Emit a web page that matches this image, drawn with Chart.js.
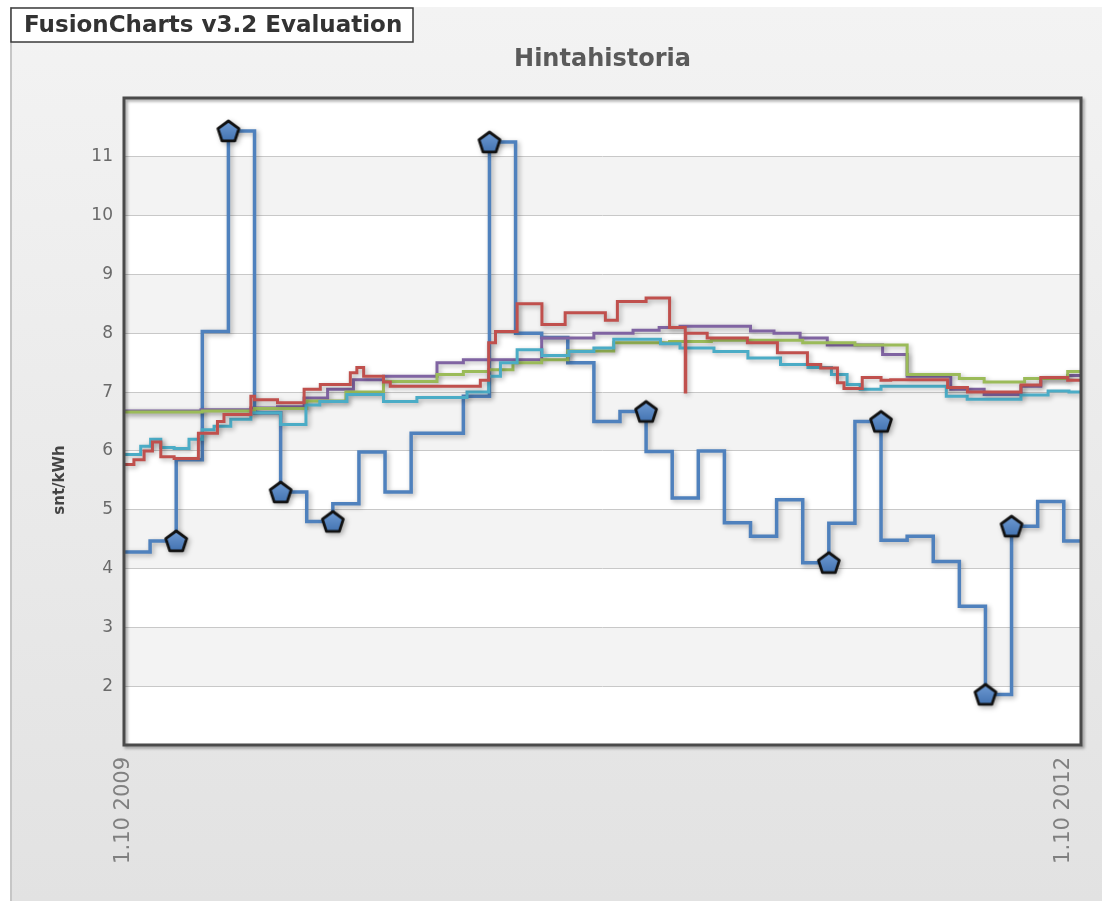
<!DOCTYPE html>
<html>
<head>
<meta charset="utf-8">
<script src="https://cdn.jsdelivr.net/npm/chart.js@4.4.1/dist/chart.umd.min.js"></script>
<style>
  html, body { margin: 0; padding: 0; background: #ffffff; }
  canvas { display: block; }
</style>
</head>
<body>
<canvas id="chart" width="1108" height="901"></canvas>
<script>
// x values are months counted from 1.10.2009
const AXIS_END = 36.66;
const tickMonths = [0, 36];
const tickLabels = ['1.10 2009', '1.10 2012'];

// Monthly spot price (held for the whole month)
const spotMonths = [0, 1, 2, 3, 4, 5, 6, 7, 8, 9, 10, 11, 12, 13, 14, 15, 16, 17, 18,
  19, 20, 21, 22, 23, 24, 25, 26, 27, 28, 29, 30, 31, 32, 33, 34, 35, 36];
const spotPrices = [4.28, 4.47, 5.85, 8.03, 11.44, 6.65, 5.3, 4.8, 5.1, 5.98, 5.3, 6.3, 6.3,
  6.93, 11.25, 8.0, 7.93, 7.5, 6.5, 6.67, 5.99, 5.2, 6.0, 4.78, 4.55, 5.17, 4.1, 4.77,
  6.5, 4.48, 4.55, 4.12, 3.36, 1.86, 4.72, 5.14, 4.47];

// Highlighted spot points
const markerMonths = [2, 4, 6, 8, 14, 20, 27, 29, 33, 34];
const markerPrices = [4.47, 11.44, 5.3, 4.8, 11.25, 6.67, 4.1, 6.5, 1.86, 4.72];

// Contract A (violet)
const contractAMonths = [0, 2.95, 4.86, 5.88, 6.9, 7.8, 8.79, 9.94, 11.99, 13.0, 16.0, 18.0,
  19.5, 20.5, 21.3, 24.0, 24.9, 25.9, 26.94, 29.06, 30.0, 31.67, 32.95, 34.36, 35.12, 36.15];
const contractAPrices = [6.68, 6.7, 6.73, 6.75, 6.9, 7.05, 7.21, 7.27, 7.5, 7.55, 7.92, 8.0,
  8.05, 8.1, 8.12, 8.04, 8.0, 7.92, 7.8, 7.64, 7.27, 7.05, 6.96, 7.1, 7.23, 7.28];

// Contract B (olive)
const contractBMonths = [0, 3.0, 5.0, 7.0, 8.5, 9.94, 11.99, 13.0, 13.97, 14.9, 16.0, 17.0,
  18.76, 20.9, 22.5, 26.0, 28.0, 30.0, 32.0, 32.95, 34.5, 36.15];
const contractBPrices = [6.66, 6.68, 6.72, 6.85, 7.0, 7.18, 7.3, 7.35, 7.38, 7.5, 7.55, 7.7,
  7.84, 7.86, 7.88, 7.84, 7.8, 7.3, 7.23, 7.17, 7.23, 7.35];

// Contract C (red)
const contractCMonths = [0, 0.38, 0.77, 1.09, 1.41, 1.92, 2.85, 3.58, 3.83, 4.86, 5.0, 5.88,
  6.9, 7.52, 8.67, 8.92, 9.18, 9.94, 10.2, 13.65, 13.97, 14.23, 15.06, 16.01, 16.9, 18.44,
  18.9, 20.0, 20.9, 21.5, 21.52, 22.34, 23.88, 25.03, 26.18, 26.69, 27.33, 27.58, 28.28,
  29.0, 29.37, 31.55, 32.31, 34.36, 35.12, 36.15];
const contractCPrices = [5.77, 5.85, 6.0, 6.15, 5.9, 5.87, 6.3, 6.5, 6.62, 6.93, 6.87, 6.82,
  7.05, 7.13, 7.33, 7.42, 7.27, 7.17, 7.1, 7.2, 7.84, 8.03, 8.5, 8.15, 8.35, 8.22,
  8.54, 8.6, 8.1, 7.0, 8.0, 7.92, 7.84, 7.67, 7.47, 7.41, 7.16, 7.06, 7.25,
  7.2, 7.21, 7.08, 7.0, 7.12, 7.25, 7.2];

// Contract D (turquoise)
const contractDMonths = [0, 0.64, 1.02, 1.41, 1.92, 2.49, 3.0, 3.45, 4.09, 4.86, 6.0, 6.97,
  7.5, 8.54, 9.94, 11.22, 13.14, 13.97, 14.42, 15.06, 16.01, 17.04, 18.0, 18.76, 20.55,
  21.3, 22.6, 23.9, 25.15, 26.2, 27.1, 27.7, 28.2, 29.0, 31.5, 32.3, 34.36, 35.4, 36.2];
const contractDPrices = [5.94, 6.08, 6.2, 6.06, 6.04, 6.2, 6.36, 6.42, 6.54, 6.65, 6.45, 6.78,
  6.84, 6.96, 6.84, 6.91, 7.0, 7.27, 7.5, 7.72, 7.62, 7.69, 7.75, 7.9, 7.82,
  7.75, 7.69, 7.58, 7.47, 7.42, 7.3, 7.13, 7.05, 7.1, 6.93, 6.88, 6.95, 7.02, 7.0];

// Step series: each value holds until the next month; the last one runs to the axis end
function stepPoints(months, prices) {
  const pts = months.map((m, i) => ({ x: m, y: prices[i] }));
  pts.push({ x: AXIS_END, y: prices[prices.length - 1] });
  return pts;
}

// Pentagon marker drawn once and reused as the point style
function makePentagon() {
  const size = 30, c = document.createElement('canvas');
  c.width = size; c.height = size;
  const g = c.getContext('2d');
  const cx = size / 2, cy = size / 2 + 1, r = 11;
  g.beginPath();
  for (let i = 0; i < 5; i++) {
    const a = -Math.PI / 2 + i * 2 * Math.PI / 5;
    const px = cx + r * Math.cos(a), py = cy + r * Math.sin(a);
    if (i === 0) g.moveTo(px, py); else g.lineTo(px, py);
  }
  g.closePath();
  const grad = g.createLinearGradient(0, cy - r, 0, cy + r);
  grad.addColorStop(0, '#6f9bd3');
  grad.addColorStop(1, '#3f6fae');
  g.fillStyle = grad;
  g.fill();
  g.lineWidth = 2.8;
  g.strokeStyle = '#111111';
  g.lineJoin = 'round';
  g.stroke();
  return c;
}

const lineShadow = {
  id: 'lineShadow',
  beforeDatasetDraw(chart) {
    const c = chart.ctx;
    c.save();
    c.shadowColor = 'rgba(0,0,0,0.3)';
    c.shadowBlur = 5;
    c.shadowOffsetX = 2;
    c.shadowOffsetY = 2;
  },
  afterDatasetDraw(chart) {
    chart.ctx.restore();
  }
};

const frame = {
  id: 'frame',
  beforeDraw(chart) {
    const c = chart.ctx, ca = chart.chartArea, ys = chart.scales.y;
    c.save();
    c.fillStyle = '#ffffff';
    c.fillRect(0, 0, chart.width, chart.height);
    const bg = c.createLinearGradient(0, 7, 0, chart.height);
    bg.addColorStop(0, '#f3f3f3');
    bg.addColorStop(1, '#e2e2e2');
    c.fillStyle = bg;
    c.fillRect(10, 7, 1092, chart.height - 7);
    c.fillStyle = '#c6c6c6';
    c.fillRect(10, 7, 2, chart.height - 7);
    // plot background with alternating bands
    c.fillStyle = '#ffffff';
    c.fillRect(ca.left, ca.top, ca.right - ca.left, ca.bottom - ca.top);
    c.fillStyle = '#f3f3f3';
    for (let v = Math.ceil(ys.min); v < ys.max; v++) {
      if (v % 2 !== 0) continue;
      const yTop = ys.getPixelForValue(v + 1), yBot = ys.getPixelForValue(v);
      c.fillRect(ca.left, yTop, ca.right - ca.left, yBot - yTop);
    }
    c.restore();
  },
  afterDraw(chart) {
    const c = chart.ctx, ca = chart.chartArea;
    c.save();
    // plot border
    c.shadowColor = 'rgba(0,0,0,0.35)';
    c.shadowBlur = 3;
    c.shadowOffsetX = 2;
    c.shadowOffsetY = 2;
    c.strokeStyle = '#4a4a4a';
    c.lineWidth = 3;
    c.strokeRect(ca.left, ca.top, ca.right - ca.left, ca.bottom - ca.top);
    c.restore();

    c.save();
    c.fillStyle = '#5a5a5a';
    c.font = 'bold 24px "DejaVu Sans"';
    c.textAlign = 'center';
    c.textBaseline = 'middle';
    c.fillText('Hintahistoria', (ca.left + ca.right) / 2, 60);

    c.translate(60, 480);
    c.rotate(-Math.PI / 2);
    c.fillStyle = '#444444';
    c.font = 'bold 15px "DejaVu Sans"';
    c.fillText('snt/kWh', 0, 0);
    c.restore();

    c.save();
    c.fillStyle = '#ffffff';
    c.fillRect(11, 8, 402, 34);
    c.strokeStyle = '#3a3a3a';
    c.lineWidth = 1.5;
    c.strokeRect(11, 8, 402, 34);
    c.fillStyle = '#333333';
    c.font = 'bold 23px "DejaVu Sans"';
    c.textAlign = 'left';
    c.textBaseline = 'middle';
    c.fillText('FusionCharts v3.2 Evaluation', 24, 26);
    c.restore();
  }
};

function stepLine(label, months, prices, color, width, order) {
  return {
    label: label,
    data: stepPoints(months, prices),
    borderColor: color,
    backgroundColor: color,
    borderWidth: width,
    stepped: 'before',
    pointRadius: 0,
    fill: false,
    order: order
  };
}

const pentagon = makePentagon();

new Chart(document.getElementById('chart').getContext('2d'), {
  type: 'line',
  data: {
    datasets: [
      {
        label: 'Spot',
        data: markerMonths.map((m, i) => ({ x: m, y: markerPrices[i] })),
        showLine: false,
        pointStyle: pentagon,
        pointRadius: 11,
        order: 0
      },
      stepLine('Sopimus C', contractCMonths, contractCPrices, '#c0504d', 3, 1),
      stepLine('Sopimus D', contractDMonths, contractDPrices, '#4bacc6', 3, 2),
      stepLine('Sopimus B', contractBMonths, contractBPrices, '#9bbb59', 3, 3),
      stepLine('Sopimus A', contractAMonths, contractAPrices, '#8064a2', 3, 4),
      stepLine('Spot', spotMonths, spotPrices, '#4f81bd', 3.5, 5)
    ]
  },
  options: {
    responsive: false,
    animation: false,
    events: [],
    layout: { padding: { left: 50, right: 27, top: 98, bottom: 0 } },
    plugins: {
      legend: { display: false },
      tooltip: { enabled: false },
      title: { display: false }
    },
    scales: {
      x: {
        type: 'linear',
        min: 0,
        max: AXIS_END,
        afterBuildTicks(scale) {
          scale.ticks = tickMonths.map(v => ({ value: v }));
        },
        afterFit(scale) { scale.height = 156; },
        ticks: {
          autoSkip: false,
          minRotation: 90,
          maxRotation: 90,
          padding: 12,
          color: '#808080',
          font: { family: 'DejaVu Sans', size: 21 },
          callback(value) {
            const i = tickMonths.indexOf(value);
            return i >= 0 ? tickLabels[i] : '';
          }
        },
        grid: { display: false, drawTicks: false },
        border: { display: false }
      },
      y: {
        min: 1,
        max: 12,
        afterFit(scale) { scale.width = 74; },
        ticks: {
          stepSize: 1,
          padding: 11,
          color: '#6a6a6a',
          font: { family: 'DejaVu Sans', size: 17 },
          callback(value) {
            return value > 1 && value < 12 ? String(value) : '';
          }
        },
        grid: { color: '#c8c8c8', lineWidth: 1, drawTicks: false },
        border: { display: false }
      }
    }
  },
  plugins: [frame, lineShadow]
});
</script>
</body>
</html>
